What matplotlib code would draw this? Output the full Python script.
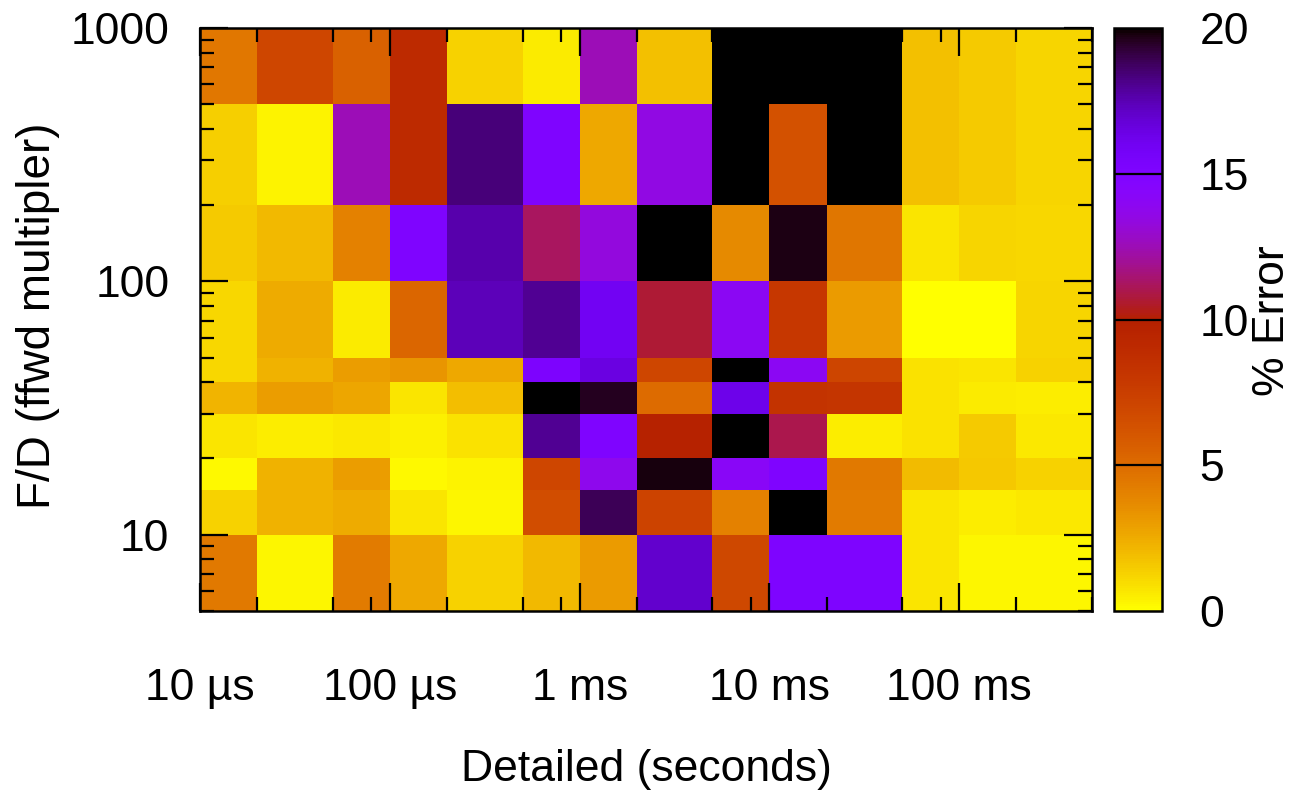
import numpy as np
import matplotlib
matplotlib.use("Agg")
import matplotlib.pyplot as plt
from matplotlib.ticker import FixedLocator, LogLocator, NullFormatter, FixedFormatter

# Bin edges (Detailed time in seconds, F/D multiplier)
x_edges = [1e-5, 2e-5, 5e-5, 1e-4, 2e-4, 5e-4, 1e-3, 2e-3, 5e-3,
           1e-2, 2e-2, 5e-2, 1e-1, 2e-1, 5e-1]
y_edges = [5, 10, 15, 20, 30, 40, 50, 100, 200, 500, 1000]

x_tick_values = [1e-5, 1e-4, 1e-3, 1e-2, 1e-1]
x_tick_labels = ["10 µs", "100 µs", "1 ms", "10 ms", "100 ms"]
y_tick_values = [10, 100, 1000]
y_tick_labels = ["10", "100", "1000"]
cb_ticks = [0, 5, 10, 15, 20]

# % error per cell, one list per F/D row (columns follow x_edges)
err_fd_5_10     = [4.4, 0.25, 4.3, 2.6, 1.3, 2.1, 3.1, 17.0, 6.9, 15.1, 15.1, 0.75, 0.25, 0.3]
err_fd_10_15    = [1.3, 2.3, 2.5, 0.75, 0.3, 6.6, 18.9, 7.2, 4.1, 20.0, 4.3, 0.75, 0.5, 0.7]
err_fd_15_20    = [0.2, 2.3, 3.0, 0.2, 0.35, 7.0, 13.8, 19.8, 14.2, 15.0, 4.4, 2.0, 1.6, 1.3]
err_fd_20_30    = [0.75, 0.5, 0.7, 0.45, 0.8, 18.0, 15.0, 9.8, 20.0, 11.0, 0.5, 0.8, 1.5, 0.7]
err_fd_30_40    = [2.2, 3.0, 2.7, 0.75, 1.9, 20.0, 19.6, 5.0, 16.3, 8.3, 8.2, 0.8, 0.6, 0.5]
err_fd_40_50    = [1.1, 2.3, 3.0, 3.3, 2.6, 15.2, 16.5, 7.0, 20.0, 14.0, 7.1, 0.8, 0.75, 1.3]
err_fd_50_100   = [1.1, 2.5, 0.6, 5.3, 17.4, 18.0, 16.0, 10.7, 14.0, 8.0, 3.1, 0.0, 0.0, 1.2]
err_fd_100_200  = [1.5, 2.1, 4.1, 15.0, 17.6, 11.2, 13.3, 20.0, 3.7, 19.7, 4.6, 0.75, 1.2, 1.1]
err_fd_200_500  = [1.4, 0.35, 12.5, 9.0, 18.4, 15.0, 2.6, 13.5, 20.0, 6.4, 20.0, 1.8, 1.5, 1.2]
err_fd_500_1000 = [4.5, 7.0, 5.5, 9.0, 1.3, 0.55, 12.5, 1.8, 20.0, 20.0, 20.0, 1.8, 1.5, 1.2]

Z = np.array([err_fd_5_10, err_fd_10_15, err_fd_15_20, err_fd_20_30, err_fd_30_40,
              err_fd_40_50, err_fd_50_100, err_fd_100_200, err_fd_200_500, err_fd_500_1000])

plt.rcParams['font.family'] = ['Liberation Sans', 'DejaVu Sans']
FS = 32

W, H = 1295, 795
fig = plt.figure(figsize=(W / 100, H / 100), dpi=100)
ax_l, ax_r, ax_t, ax_b = 200, 1092, 28, 611
ax = fig.add_axes([ax_l / W, 1 - ax_b / H, (ax_r - ax_l) / W, (ax_b - ax_t) / H])

mesh = ax.pcolormesh(x_edges, y_edges, Z, cmap='gnuplot_r', vmin=0, vmax=20,
                     shading='flat', linewidth=0, antialiased=False)
ax.set_xscale('log')
ax.set_yscale('log')
ax.set_xlim(x_edges[0], x_edges[-1])
ax.set_ylim(y_edges[0], y_edges[-1])

ax.xaxis.set_major_locator(FixedLocator(x_tick_values))
ax.xaxis.set_major_formatter(FixedFormatter(x_tick_labels))
ax.xaxis.set_minor_locator(LogLocator(base=10, subs=[2, 5, 8], numticks=20))
ax.xaxis.set_minor_formatter(NullFormatter())
ax.yaxis.set_major_locator(FixedLocator(y_tick_values))
ax.yaxis.set_major_formatter(FixedFormatter(y_tick_labels))
ax.yaxis.set_minor_locator(LogLocator(base=10, subs=np.arange(2, 10), numticks=20))
ax.yaxis.set_minor_formatter(NullFormatter())

ax.tick_params(which='both', direction='in', top=True, right=True, width=1.6, color='black')
ax.tick_params(which='major', length=20)
ax.tick_params(which='minor', length=10)
ax.tick_params(axis='x', which='major', pad=41, labelsize=FS)
ax.tick_params(axis='y', which='major', pad=22, labelsize=FS)
for s in ax.spines.values():
    s.set_linewidth(1.8)

fig.text(646 / W, 1 - 770 / H, "Detailed (seconds)", ha='center', va='center', fontsize=FS)
fig.text(38 / W, 1 - 316 / H, "F/D (ffwd multipler)", ha='center', va='center',
         rotation=90, fontsize=33)

cax = fig.add_axes([1114 / W, 1 - ax_b / H, (1162 - 1114) / W, (ax_b - ax_t) / H])
cb = fig.colorbar(mesh, cax=cax, ticks=cb_ticks)
cb.outline.set_linewidth(1.8)
cax.tick_params(length=0, pad=27, labelsize=FS)
for v in cb_ticks[1:-1]:
    cax.axhline(v, color='black', lw=1.6)
fig.text(1273 / W, 1 - 321 / H, "% Error", ha='center', va='center', rotation=90, fontsize=FS)

fig.savefig("out.png", dpi=100)
